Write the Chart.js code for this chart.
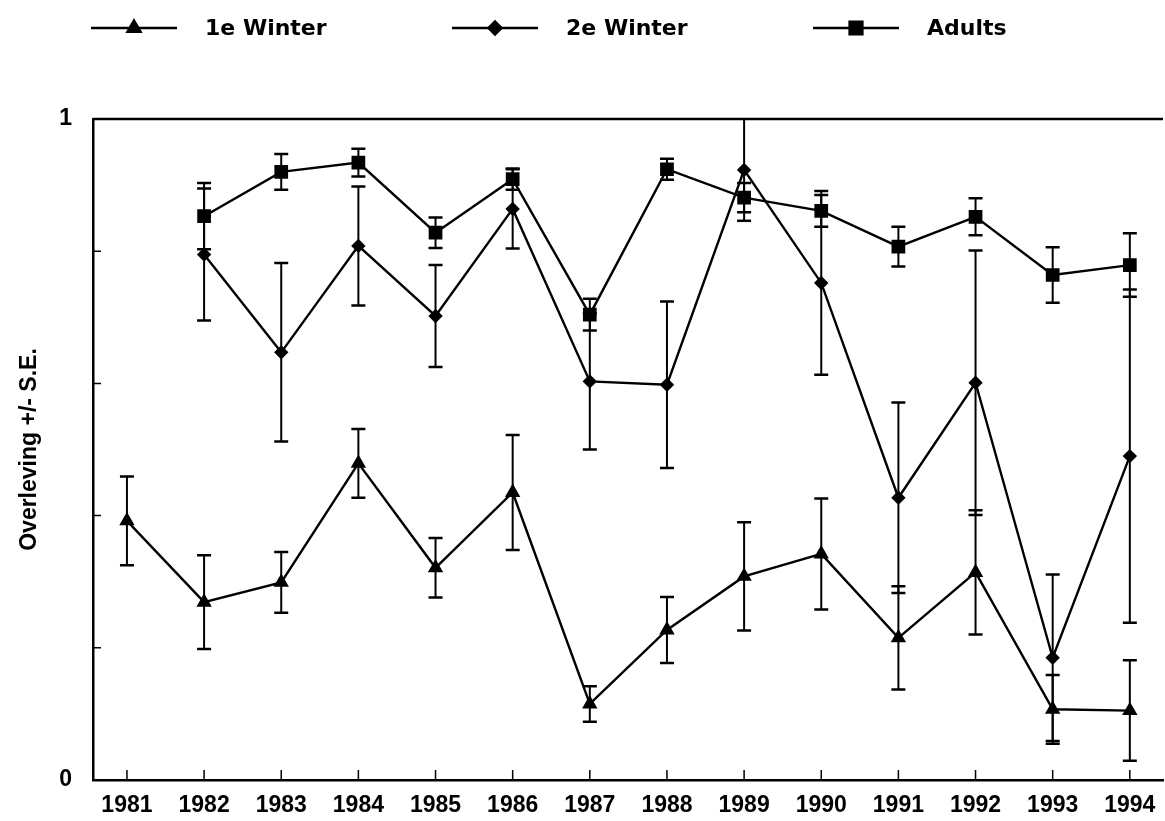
<!DOCTYPE html>
<html>
<head>
<meta charset="utf-8">
<script src="https://cdn.jsdelivr.net/npm/chart.js@4.4.1/dist/chart.umd.min.js"></script>
<style>
  html, body { margin: 0; padding: 0; background: #fff; }
</style>
</head>
<body>
<canvas id="chart" width="1165" height="821"></canvas>
<script>
const years = [1981, 1982, 1983, 1984, 1985, 1986, 1987, 1988, 1989, 1990, 1991, 1992, 1993, 1994];

const winter1 = [0.392, 0.269, 0.299, 0.479, 0.321, 0.435, 0.115, 0.227, 0.308, 0.342, 0.215, 0.314, 0.107, 0.105];
const winter1Se = [0.067, 0.071, 0.046, 0.052, 0.045, 0.087, 0.027, 0.050, 0.082, 0.084, 0.078, 0.094, 0.052, 0.076];

const winter2 = [null, 0.795, 0.647, 0.808, 0.702, 0.864, 0.603, 0.598, 0.923, 0.752, 0.427, 0.601, 0.185, 0.490];
const winter2Se = [null, 0.100, 0.135, 0.090, 0.077, 0.060, 0.103, 0.126, 0.077, 0.139, 0.144, 0.200, 0.126, 0.252];

const adults = [null, 0.853, 0.920, 0.934, 0.828, 0.909, 0.704, 0.924, 0.881, 0.861, 0.807, 0.852, 0.764, 0.779];
const adultsSe = [null, 0.050, 0.027, 0.021, 0.023, 0.016, 0.024, 0.016, 0.022, 0.024, 0.030, 0.028, 0.042, 0.048];

const yTicks = [0, 0.2, 0.4, 0.6, 0.8, 1];
const yTickLabels = ['0', '', '', '', '', '1'];

const points = vals => years.map((yr, i) => ({ x: yr, y: vals[i] }));

// error bars, inward tick marks and the top frame line
const errorBars = {
  id: 'errorBars',
  beforeDatasetsDraw(chart) {
    const { ctx, chartArea: a, scales: { x, y } } = chart;
    ctx.save();
    ctx.strokeStyle = '#000';

    ctx.lineWidth = 2.5;
    ctx.beginPath();
    ctx.moveTo(a.left, a.top);
    ctx.lineTo(a.right, a.top);
    ctx.stroke();

    ctx.lineWidth = 1.5;
    ctx.beginPath();
    yTicks.forEach(v => {
      const py = y.getPixelForValue(v);
      ctx.moveTo(a.left, py);
      ctx.lineTo(a.left + 8, py);
    });
    years.forEach(v => {
      const px = x.getPixelForValue(v);
      ctx.moveTo(px, a.bottom);
      ctx.lineTo(px, a.bottom - 10);
    });
    ctx.stroke();

    chart.data.datasets.forEach(ds => {
      ds.data.forEach((p, i) => {
        const se = ds.se[i];
        if (p.y == null || se == null) return;
        const px = x.getPixelForValue(p.x);
        const hi = Math.min(1, p.y + se);
        const lo = Math.max(0, p.y - se);
        const top = y.getPixelForValue(hi);
        const bot = y.getPixelForValue(lo);
        ctx.lineWidth = 2;
        ctx.beginPath();
        ctx.moveTo(px, top);
        ctx.lineTo(px, bot);
        ctx.stroke();
        ctx.lineWidth = 2.5;
        ctx.beginPath();
        if (hi < 1) { ctx.moveTo(px - 7, top); ctx.lineTo(px + 7, top); }
        ctx.moveTo(px - 7, bot);
        ctx.lineTo(px + 7, bot);
        ctx.stroke();
      });
    });
    ctx.restore();
  }
};

// legend drawn as line + marker + bold label, spread across the top
const lineLegend = {
  id: 'lineLegend',
  afterDraw(chart) {
    const ctx = chart.ctx;
    ctx.save();
    chart.data.datasets.forEach((ds, i) => {
      const x0 = 91 + i * 361;
      const yy = 28;
      ctx.strokeStyle = '#000';
      ctx.fillStyle = '#000';
      ctx.lineWidth = 2.5;
      ctx.beginPath();
      ctx.moveTo(x0, yy);
      ctx.lineTo(x0 + 86, yy);
      ctx.stroke();
      Chart.helpers.drawPoint(ctx, {
        pointStyle: ds.pointStyle, radius: ds.pointRadius + 1, rotation: 0, borderWidth: 1
      }, x0 + 43, yy);
      ctx.font = 'bold 22px "DejaVu Sans"';
      ctx.textBaseline = 'middle';
      ctx.textAlign = 'left';
      ctx.fillText(ds.label, x0 + 114, yy + 1);
    });
    ctx.restore();
  }
};

const tickFont = { family: '"Liberation Sans", Arial, sans-serif', size: 23, weight: 'bold' };

new Chart(document.getElementById('chart'), {
  type: 'line',
  data: {
    datasets: [
      {
        label: '1e Winter',
        data: points(winter1),
        se: winter1Se,
        pointStyle: 'triangle',
        pointRadius: 6.5
      },
      {
        label: '2e Winter',
        data: points(winter2),
        se: winter2Se,
        pointStyle: 'rectRot',
        pointRadius: 5.5
      },
      {
        label: 'Adults',
        data: points(adults),
        se: adultsSe,
        pointStyle: 'rect',
        pointRadius: 8
      }
    ].map(ds => Object.assign(ds, {
      borderColor: '#000',
      backgroundColor: '#000',
      pointBackgroundColor: '#000',
      pointBorderColor: '#000',
      borderWidth: 2.4,
      tension: 0,
      fill: false
    }))
  },
  options: {
    responsive: false,
    devicePixelRatio: 1,
    animation: false,
    layout: { autoPadding: false, padding: { top: 119, right: 2, left: 0, bottom: 0 } },
    plugins: {
      legend: { display: false },
      tooltip: { enabled: false }
    },
    scales: {
      x: {
        type: 'linear',
        min: 1980.56,
        max: 1994.43,
        afterBuildTicks: axis => { axis.ticks = years.map(v => ({ value: v })); },
        afterFit: axis => { axis.height = 41; axis.paddingLeft = 0; axis.paddingRight = 0; },
        grid: { display: false, drawTicks: false },
        border: { display: true, color: '#000', width: 2.5 },
        ticks: {
          color: '#000',
          font: tickFont,
          padding: 12,
          maxRotation: 0,
          autoSkip: false,
          callback: v => String(v)
        }
      },
      y: {
        min: 0,
        max: 1,
        afterBuildTicks: axis => { axis.ticks = yTicks.map(v => ({ value: v })); },
        afterFit: axis => { axis.width = 93; axis.paddingTop = 0; axis.paddingBottom = 0; },
        grid: { display: false, drawTicks: false },
        border: { display: true, color: '#000', width: 2.5 },
        ticks: {
          color: '#000',
          font: tickFont,
          padding: 21,
          callback: (v, i) => yTickLabels[i]
        },
        title: {
          display: true,
          text: 'Overleving +/- S.E.',
          color: '#000',
          font: tickFont,
          padding: { top: 16, bottom: 0 }
        }
      }
    }
  },
  plugins: [errorBars, lineLegend]
});
</script>
</body>
</html>
